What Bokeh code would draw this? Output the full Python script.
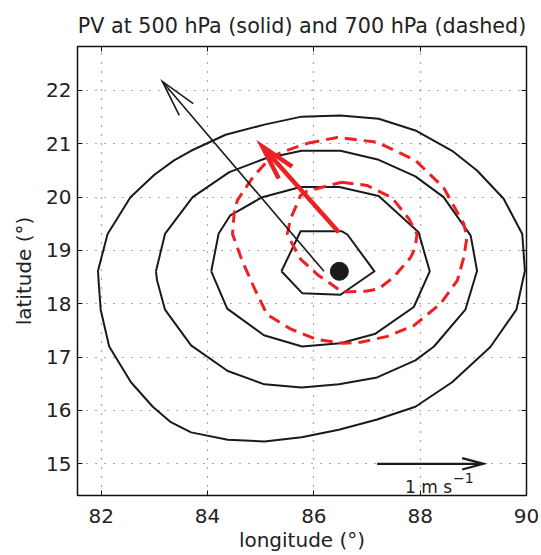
import numpy as np
from bokeh.plotting import figure
from bokeh.models import Range1d, LinearAxis, FixedTicker
from bokeh.core.properties import value
from bokeh.embed import file_html
from bokeh.resources import INLINE

# ---------------- data ----------------
title_text = "PV at 500 hPa (solid) and 700 hPa (dashed)"
x_label = "longitude (°)"
y_label = "latitude (°)"
x_ticks = [82, 84, 86, 88, 90]
y_ticks = [15, 16, 17, 18, 19, 20, 21, 22]

# 500 hPa PV contours (solid, black), innermost to outermost
c500_1_lon = [85.39, 85.75, 86.53, 86.63, 87.14, 86.50, 85.78]
c500_1_lat = [18.61, 19.36, 19.36, 19.30, 18.61, 18.17, 18.20]

c500_2_lon = [84.07, 84.21, 84.43, 85.03, 85.75, 86.48, 87.22, 87.97, 88.18, 87.88, 87.16, 86.50, 85.78, 85.06, 84.37]
c500_2_lat = [18.61, 19.32, 19.66, 20.00, 20.19, 20.19, 20.02, 19.34, 18.61, 17.94, 17.44, 17.26, 17.20, 17.41, 17.91]

c500_3_lon = [83.03, 83.20, 83.72, 84.41, 85.07, 85.77, 86.50, 87.22, 87.91, 88.44, 88.95, 89.07, 88.85, 88.26, 87.91, 87.19, 86.47, 85.77, 85.07, 84.38, 83.69, 83.20, 83.05]
c500_3_lat = [18.61, 19.31, 20.00, 20.47, 20.72, 20.87, 20.87, 20.70, 20.39, 20.00, 19.28, 18.62, 17.89, 17.20, 16.94, 16.62, 16.49, 16.43, 16.49, 16.74, 17.22, 17.89, 18.44]

c500_4_lon = [81.94, 82.12, 82.55, 83.00, 83.37, 83.69, 84.34, 85.07, 85.77, 86.50, 87.22, 87.91, 88.60, 89.07, 89.57, 89.92, 89.97, 89.81, 89.32, 88.60, 87.91, 87.19, 86.47, 85.77, 85.07, 84.38, 83.69, 83.31, 82.97, 82.56, 82.15, 81.99, 81.95]
c500_4_lat = [18.62, 19.31, 20.00, 20.42, 20.69, 20.87, 21.17, 21.36, 21.51, 21.53, 21.47, 21.25, 20.87, 20.50, 19.97, 19.31, 18.62, 17.89, 17.19, 16.53, 16.07, 15.83, 15.64, 15.50, 15.42, 15.45, 15.59, 15.78, 16.07, 16.53, 17.20, 17.89, 18.44]

# 700 hPa PV contours (dashed, red)
c700_1_lon = [86.52, 87.00, 87.47, 87.79, 87.94, 87.91, 87.82, 87.50, 87.22, 87.00, 86.53, 86.31, 86.09, 85.75, 85.59, 85.50, 85.56, 85.75, 85.87]
c700_1_lat = [20.28, 20.22, 19.99, 19.59, 19.31, 19.06, 18.87, 18.50, 18.28, 18.24, 18.22, 18.38, 18.53, 18.84, 19.13, 19.31, 19.59, 20.03, 20.11]

c700_2_lon = [85.88, 86.44, 87.19, 87.91, 88.44, 88.82, 88.88, 88.82, 88.70, 88.38, 87.88, 87.38, 86.88, 86.56, 86.06, 85.56, 85.12, 84.90, 84.65, 84.47, 84.50, 84.56, 84.85, 85.19, 85.47]
c700_2_lat = [21.01, 21.12, 21.03, 20.69, 20.18, 19.50, 19.25, 18.87, 18.44, 18.00, 17.59, 17.39, 17.28, 17.26, 17.33, 17.53, 17.80, 18.25, 18.81, 19.31, 19.69, 19.94, 20.37, 20.75, 20.87]

# storm centre
centre_lon = [86.48]
centre_lat = [18.61]

# arrows: tail and tip (lon, lat)
black_tail = (86.19, 18.61)
black_tip = (83.15, 22.17)
red_tail = (86.47, 19.34)
red_tip = (85.03, 20.95)
scale_tail = (87.19, 15.0)
scale_tip = (89.19, 15.0)
scale_label = "1 m s"
scale_sup = "\u22121"

# ---------------- layout ----------------
X0, X1 = 81.554, 90.0
Y0, Y1 = 14.406, 22.825
W, H = 541, 555
BL, BR, BT, BB = 77, 15, 46, 60
FW, FH = W - BL - BR, H - BT - BB
kx = FW / (X1 - X0)
ky = FH / (Y1 - Y0)

FONT = "DejaVu Sans"
TXT = "#222222"
RED = "#ED2024"

p = figure(width=W, height=H, output_backend="svg", toolbar_location=None,
           x_range=Range1d(X0, X1), y_range=Range1d(Y0, Y1),
           min_border_left=BL, min_border_right=BR,
           min_border_top=BT, min_border_bottom=BB,
           title=title_text)
p.background_fill_color = "white"
p.border_fill_color = "white"
p.outline_line_color = "#111111"
p.outline_line_width = 1.5

p.title.text_font = FONT
p.title.text_font_size = "20.7px"
p.title.text_font_style = "normal"
p.title.text_color = TXT
p.title.align = "center"
p.title.standoff = 17

for ax in (p.xaxis[0], p.yaxis[0]):
    ax.major_label_text_font = FONT
    ax.major_label_text_font_size = "20px"
    ax.major_label_text_color = TXT
    ax.axis_label_text_font = FONT
    ax.axis_label_text_font_size = "20px"
    ax.axis_label_text_font_style = "normal"
    ax.axis_label_text_color = TXT
    ax.major_tick_in = 5
    ax.major_tick_out = 0
    ax.minor_tick_line_color = None
    ax.axis_line_color = "#111111"
    ax.major_tick_line_color = "#111111"

p.xaxis[0].ticker = FixedTicker(ticks=x_ticks)
p.yaxis[0].ticker = FixedTicker(ticks=y_ticks)
p.xaxis[0].axis_label = x_label
p.yaxis[0].axis_label = y_label
p.xaxis[0].major_label_standoff = 13
p.xaxis[0].axis_label_standoff = 2
p.yaxis[0].major_label_standoff = 6
p.yaxis[0].axis_label_standoff = 7

for loc, tk in (("above", x_ticks), ("right", y_ticks)):
    ax = LinearAxis(ticker=FixedTicker(ticks=tk))
    ax.major_label_text_font_size = "0px"
    ax.major_label_text_color = None
    ax.major_label_standoff = 0
    ax.major_tick_in = 5
    ax.major_tick_out = 0
    ax.minor_tick_line_color = None
    ax.axis_line_color = "#111111"
    ax.major_tick_line_color = "#111111"
    p.add_layout(ax, loc)

p.xgrid.ticker = FixedTicker(ticks=x_ticks)
p.ygrid.ticker = FixedTicker(ticks=y_ticks)
for g in (p.xgrid[0], p.ygrid[0]):
    g.grid_line_color = "#555555"
    g.grid_line_width = 1.2
    g.grid_line_dash = "1 8"

# ---------------- contours ----------------
def closed(a):
    return list(a) + [a[0]]

for lon, lat in ((c500_1_lon, c500_1_lat), (c500_2_lon, c500_2_lat),
                 (c500_3_lon, c500_3_lat), (c500_4_lon, c500_4_lat)):
    p.line(closed(lon), closed(lat), line_color="#1a1a1a", line_width=2,
           line_join="round")

for lon, lat in ((c700_1_lon, c700_1_lat), (c700_2_lon, c700_2_lat)):
    p.line(closed(lon), closed(lat), line_color=RED, line_width=3,
           line_dash="12 7", line_join="round")

# ---------------- arrows ----------------
def arrow_head(tail, tip, head_px, half_deg):
    dxp = (tip[0] - tail[0]) * kx
    dyp = (tip[1] - tail[1]) * ky
    L = np.hypot(dxp, dyp)
    ux, uy = -dxp / L, -dyp / L
    pts = []
    for s in (1, -1):
        a = np.radians(s * half_deg)
        wx = ux * np.cos(a) - uy * np.sin(a)
        wy = ux * np.sin(a) + uy * np.cos(a)
        pts.append((tip[0] + wx * head_px / kx, tip[1] + wy * head_px / ky))
    xs = [pts[0][0], tip[0], pts[1][0]]
    ys = [pts[0][1], tip[1], pts[1][1]]
    return xs, ys

def draw_arrow(tail, tip, color, width, head_px, half_deg):
    p.line([tail[0], tip[0]], [tail[1], tip[1]], line_color=color,
           line_width=width, line_cap="butt")
    hx, hy = arrow_head(tail, tip, head_px, half_deg)
    p.line(hx, hy, line_color=color, line_width=width, line_join="miter")

draw_arrow(black_tail, black_tip, "#1a1a1a", 1.6, 38, 14)
draw_arrow(red_tail, red_tip, RED, 4.5, 36, 14.5)
draw_arrow(scale_tail, scale_tip, "#1a1a1a", 2.2, 22, 15)

# storm centre dot
p.scatter(centre_lon, centre_lat, size=18, marker="circle",
          fill_color="#1a1a1a", line_color="#1a1a1a")

# scale label
p.text(x=[scale_tail[0]], y=[scale_tail[1]], text=[scale_label],
       x_offset=28, y_offset=23, text_font=value(FONT),
       text_font_size="17px", text_color=TXT,
       text_align="left", text_baseline="alphabetic")
p.text(x=[scale_tail[0]], y=[scale_tail[1]], text=[scale_sup],
       x_offset=76, y_offset=14, text_font=value(FONT),
       text_font_size="14px", text_color=TXT,
       text_align="left", text_baseline="alphabetic")

open("out.html", "w").write(file_html(p, INLINE))
